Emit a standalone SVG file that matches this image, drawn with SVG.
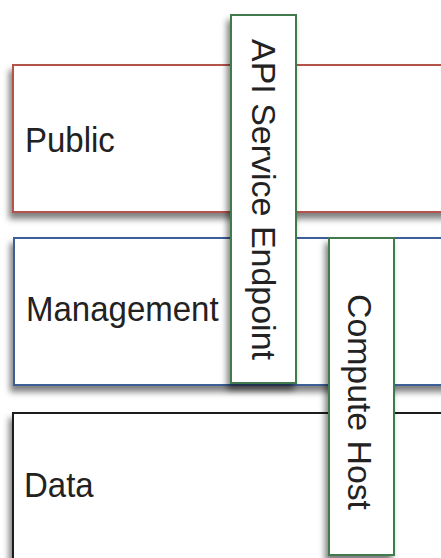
<svg xmlns="http://www.w3.org/2000/svg" width="441" height="558" viewBox="0 0 441 558">
<defs>
<filter id="sh" x="-20%" y="-20%" width="140%" height="140%">
<feDropShadow dx="-3" dy="6" stdDeviation="3" flood-color="#000" flood-opacity="0.5"/>
</filter>
<style>
text{font-family:"Liberation Sans",Arial,sans-serif;font-size:33px;fill:#222}
.box{fill:#fff;stroke-width:2;filter:url(#sh)}
.net-pub{stroke:#b5524c}
.net-mgmt{stroke:#3c5f98}
.net-data{stroke:#1f1f1f}
.svc{stroke:#3f7a4d}
</style>
</defs>
<rect width="441" height="558" fill="#fff"/>
<g id="public">
<rect class="box net-pub" x="13" y="65" width="440" height="147"/>
<text transform="translate(25,152) scale(1,1.05)">Public</text>
</g>
<g id="management">
<rect class="box net-mgmt" x="14" y="238" width="440" height="147"/>
<text transform="translate(26,321) scale(1,1.05)">Management</text>
</g>
<g id="data">
<rect class="box net-data" x="13" y="413" width="440" height="160"/>
<text transform="translate(24,497) scale(1,1.05)">Data</text>
</g>
<g id="api-service-endpoint">
<rect class="box svc" x="231" y="15" width="65" height="368"/>
<text transform="translate(252,39) rotate(90)" textLength="321" lengthAdjust="spacingAndGlyphs">API Service Endpoint</text>
</g>
<g id="compute-host">
<rect class="box svc" x="329" y="238" width="65" height="317"/>
<text transform="translate(348,294) rotate(90)" textLength="216" lengthAdjust="spacingAndGlyphs">Compute Host</text>
</g>
<g id="connectors"></g>
</svg>
